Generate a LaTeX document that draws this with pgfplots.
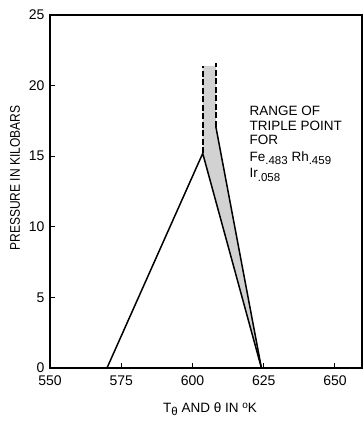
\documentclass[border=0pt]{standalone}
\usepackage{pgfplots}
\pgfplotsset{compat=1.18}
\usepackage{fontspec}
\setmainfont{Liberation Sans}
\newfontfamily\condf[FakeStretch=0.86]{Liberation Sans}
\newcommand{\sub}[1]{\raisebox{-3.5pt}{\fontsize{11.5}{12}\selectfont #1}}
\begin{document}
\begin{tikzpicture}
\begin{axis}[
  name=ax,
  scale only axis, width=312pt, height=353pt,
  xmin=550, xmax=659.5, ymin=0, ymax=25,
  xtick={550,575,600,625,650}, ytick={0,5,10,15,20,25},
  tick align=inside, major tick length=5pt,
  xtick pos=bottom, ytick pos=left,
  axis line style={line width=1.2pt},
  tick style={line width=0.9pt, black},
  /pgf/number format/assume math mode=true,
  /pgf/number format/1000 sep={},
  tick label style={font=\fontsize{14}{15}\selectfont},
  xticklabel style={yshift=-4.5pt},
  yticklabel style={xshift=-2pt},
  xlabel={T\sub{θ} AND θ IN \raisebox{4pt}{\fontsize{10}{11}\selectfont o}K},
  ylabel={PRESSURE IN KILOBARS},
  xlabel style={font=\fontsize{13.5}{15}\selectfont, at={(axis description cs:0.513,-0.117)}, anchor=center},
  ylabel style={font=\condf\fontsize{14}{15}\selectfont, at={(axis description cs:-0.112,0.538)}, anchor=center},
  clip=false,
]
% shaded region
\addplot[fill=gray!35, draw=none] coordinates {(603.6,15.2) (603.6,21.4) (608.2,21.4) (608.2,17.1) (624.2,0) (603.6,15.2)};
% dashed verticals
\addplot[black, line width=1.8pt, dash pattern=on 6pt off 2.5pt] coordinates {(603.6,15.2) (603.6,21.4)};
\addplot[black, line width=1.8pt, dash pattern=on 6pt off 2.5pt] coordinates {(608.2,17.1) (608.2,21.6)};
% solid lines
\addplot[black, line width=1.5pt] coordinates {(570,0) (603.6,15.2) (624.2,0)};
\addplot[black, line width=1.5pt] coordinates {(608.2,17.1) (624.2,0)};
\node[anchor=north west, align=left, font=\fontsize{13.5}{14.5}\selectfont, inner sep=0pt] at (axis cs:620,18.55)
  {RANGE OF\\TRIPLE POINT\\FOR\\[2pt]Fe\sub{.483} Rh\sub{.459}\\[2pt]Ir\sub{.058}};
\end{axis}
\pgfresetboundingbox
\path ([shift={(-50pt,-55pt)}]ax.south west) rectangle ([shift={(1pt,15pt)}]ax.north east);
\end{tikzpicture}
\end{document}
